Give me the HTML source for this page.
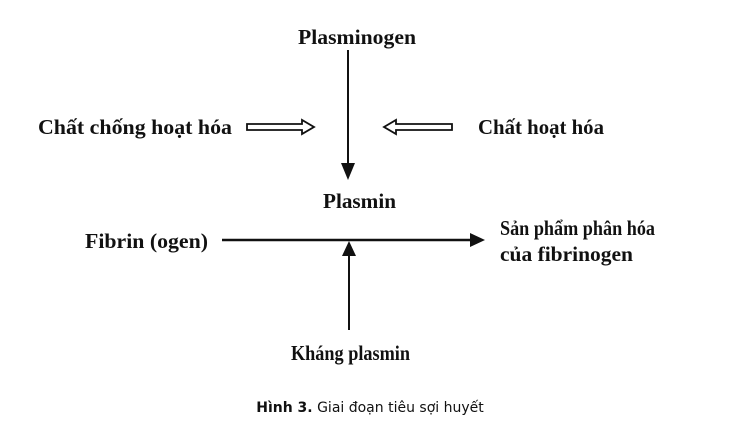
<!DOCTYPE html>
<html><head><meta charset="utf-8"><style>
html,body{margin:0;padding:0;background:#fff;}
svg{display:block;}
.t{font-family:"Liberation Serif",serif;font-weight:bold;font-size:21px;fill:#111;}
.c{font-family:"DejaVu Sans","Liberation Sans",sans-serif;font-size:14px;fill:#111;}
</style></head><body>
<svg width="741" height="435" viewBox="0 0 741 435" xmlns="http://www.w3.org/2000/svg">
<text class="t" x="298" y="44" textLength="118" lengthAdjust="spacingAndGlyphs">Plasminogen</text>
<line x1="348" y1="50" x2="348" y2="166" stroke="#111" stroke-width="2"/>
<polygon points="341,163 355,163 348,180" fill="#111"/>
<text class="t" x="38" y="134" textLength="194" lengthAdjust="spacingAndGlyphs">Chất chống hoạt hóa</text>
<polygon points="247,124 302,124 302,120 314,127 302,134 302,130 247,130" fill="#fff" stroke="#111" stroke-width="1.8"/>
<polygon points="452,124 396,124 396,120 384,127 396,134 396,130 452,130" fill="#fff" stroke="#111" stroke-width="1.8"/>
<text class="t" x="478" y="134" textLength="126" lengthAdjust="spacingAndGlyphs">Chất hoạt hóa</text>
<text class="t" x="323" y="208" textLength="73" lengthAdjust="spacingAndGlyphs">Plasmin</text>
<text class="t" x="85" y="248" textLength="123" lengthAdjust="spacingAndGlyphs">Fibrin (ogen)</text>
<line x1="222" y1="240" x2="472" y2="240" stroke="#111" stroke-width="2.5"/>
<polygon points="470,233 485,240 470,247" fill="#111"/>
<text class="t" x="500" y="235" textLength="155" lengthAdjust="spacingAndGlyphs">Sản phẩm phân hóa</text>
<text class="t" x="500" y="261" textLength="133" lengthAdjust="spacingAndGlyphs">của fibrinogen</text>
<line x1="349" y1="254" x2="349" y2="330" stroke="#111" stroke-width="2"/>
<polygon points="342,256 356,256 349,241" fill="#111"/>
<text class="t" x="291" y="360" textLength="119" lengthAdjust="spacingAndGlyphs">Kháng plasmin</text>
<text class="c" x="370" y="412" text-anchor="middle"><tspan font-weight="bold">Hình 3.</tspan> Giai đoạn tiêu sợi huyết</text>
</svg>
</body></html>
